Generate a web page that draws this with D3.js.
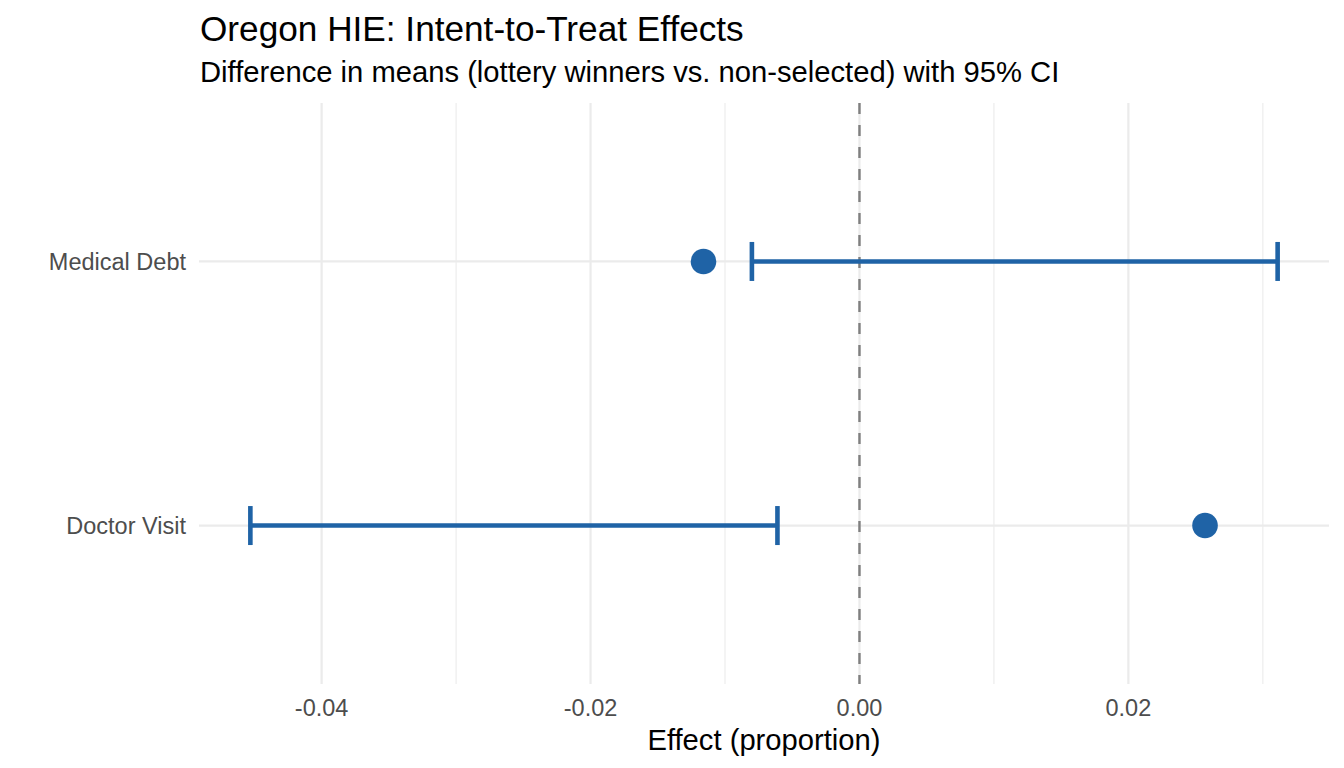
<!DOCTYPE html>
<html lang="en">
<head>
<meta charset="UTF-8">
<title>Oregon HIE: Intent-to-Treat Effects</title>
<script src="https://d3js.org/d3.v7.min.js"></script>
<style>
    body { margin: 0; background: #fff; }
    svg { display: block; font-family: "Liberation Sans", Arial, Helvetica, sans-serif; }
    .grid-major { stroke: #ebebeb; stroke-width: 2.2px; }
    .grid-minor { stroke: #ebebeb; stroke-width: 1.1px; }
    .tick-label { fill: #4d4d4d; font-size: 23.5px; }
</style>
</head>
<body>
<svg></svg>
<script>
    const width = 1344;
    const height = 768;

    // data
    const outcomes = ["Medical Debt", "Doctor Visit"];
    const estimates = [-0.0116, 0.0257];
    const ciLow = [-0.0080, -0.0453];
    const ciHigh = [0.0311, -0.0061];
    const xTicks = [-0.04, -0.02, 0.00, 0.02];
    const xMinor = [-0.03, -0.01, 0.01, 0.03];

    const rows = outcomes.map((o, i) => ({
        outcome: o, est: estimates[i], lo: ciLow[i], hi: ciHigh[i]
    }));

    const panel = { left: 199, right: 1329, top: 103, bottom: 684 };

    const svg = d3.select("svg")
        .attr("width", width)
        .attr("height", height);

    // x domain with ggplot's 5% expansion
    const lo = d3.min(rows, d => Math.min(d.lo, d.est));
    const hi = d3.max(rows, d => Math.max(d.hi, d.est));
    const pad = (hi - lo) * 0.05;
    const x = d3.scaleLinear()
        .domain([lo - pad, hi + pad])
        .range([panel.left, panel.right]);

    // discrete y with 0.6 unit expansion
    const yIdx = d3.scaleLinear()
        .domain([-0.6, outcomes.length - 1 + 0.6])
        .range([panel.top, panel.bottom]);
    const y = d => yIdx(outcomes.indexOf(d));

    const grid = svg.append("g");
    grid.selectAll("line.minor")
        .data(xMinor)
        .enter().append("line")
        .attr("class", "grid-minor")
        .attr("x1", d => x(d)).attr("x2", d => x(d))
        .attr("y1", panel.top).attr("y2", panel.bottom);
    grid.selectAll("line.major")
        .data(xTicks)
        .enter().append("line")
        .attr("class", "grid-major")
        .attr("x1", d => x(d)).attr("x2", d => x(d))
        .attr("y1", panel.top).attr("y2", panel.bottom);
    grid.selectAll("line.hmajor")
        .data(outcomes)
        .enter().append("line")
        .attr("class", "grid-major")
        .attr("x1", panel.left).attr("x2", panel.right)
        .attr("y1", d => y(d)).attr("y2", d => y(d));

    // zero reference line
    svg.append("line")
        .attr("x1", x(0)).attr("x2", x(0))
        .attr("y1", panel.top).attr("y2", panel.bottom)
        .attr("stroke", "#7f7f7f")
        .attr("stroke-width", 2.4)
        .attr("stroke-dasharray", "11,11");

    const blue = "#1f63a6";
    const capHalf = 19.5;

    const bars = svg.append("g")
        .attr("stroke", blue)
        .attr("stroke-width", 4.6)
        .attr("fill", "none");
    bars.selectAll("line.ci")
        .data(rows)
        .enter().append("line")
        .attr("x1", d => x(d.lo)).attr("x2", d => x(d.hi))
        .attr("y1", d => y(d.outcome)).attr("y2", d => y(d.outcome));
    bars.selectAll("line.caplo")
        .data(rows)
        .enter().append("line")
        .attr("x1", d => x(d.lo)).attr("x2", d => x(d.lo))
        .attr("y1", d => y(d.outcome) - capHalf).attr("y2", d => y(d.outcome) + capHalf);
    bars.selectAll("line.caphi")
        .data(rows)
        .enter().append("line")
        .attr("x1", d => x(d.hi)).attr("x2", d => x(d.hi))
        .attr("y1", d => y(d.outcome) - capHalf).attr("y2", d => y(d.outcome) + capHalf);

    svg.append("g")
        .selectAll("circle")
        .data(rows)
        .enter().append("circle")
        .attr("cx", d => x(d.est))
        .attr("cy", d => y(d.outcome))
        .attr("r", 12.8)
        .attr("fill", blue);

    // axis labels
    svg.append("g")
        .selectAll("text")
        .data(outcomes)
        .enter().append("text")
        .attr("class", "tick-label")
        .attr("x", panel.left - 13)
        .attr("y", d => y(d))
        .attr("dy", "0.35em")
        .attr("text-anchor", "end")
        .text(d => d);

    svg.append("g")
        .selectAll("text")
        .data(xTicks)
        .enter().append("text")
        .attr("class", "tick-label")
        .attr("x", d => x(d))
        .attr("y", 716)
        .attr("text-anchor", "middle")
        .text(d => d3.format(".2f")(d).replace("\u2212", "-"));

    svg.append("text")
        .attr("x", (panel.left + panel.right) / 2)
        .attr("y", 750)
        .attr("text-anchor", "middle")
        .attr("font-size", "29.2px")
        .attr("fill", "#000")
        .text("Effect (proportion)");

    svg.append("text")
        .attr("x", panel.left + 1)
        .attr("y", 41)
        .attr("font-size", "35.2px")
        .attr("fill", "#000")
        .text("Oregon HIE: Intent-to-Treat Effects");

    svg.append("text")
        .attr("x", panel.left + 1)
        .attr("y", 82)
        .attr("font-size", "29.2px")
        .attr("fill", "#000")
        .text("Difference in means (lottery winners vs. non-selected) with 95% CI");
</script>
</body>
</html>
